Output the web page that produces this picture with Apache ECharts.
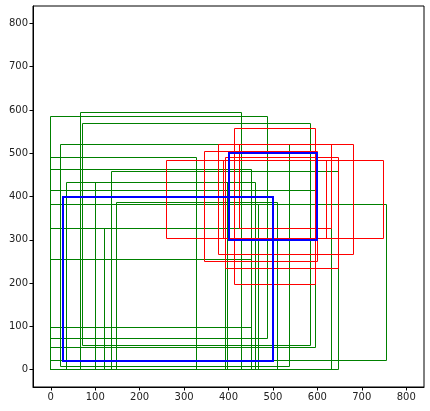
<!DOCTYPE html>
<html>
<head>
<meta charset="utf-8">
<script src="https://cdn.jsdelivr.net/npm/echarts@6/dist/echarts.min.js"></script>
<style>
html,body{margin:0;padding:0;background:#fff;}
#chart{width:430px;height:411px;}
</style>
</head>
<body>
<div id="chart"></div>
<script>
// Boxes as [x0, y0, x1, y1]
const greenBoxes = [
  [68, 0, 429, 593],
  [0, 73, 487, 584],
  [72, 57, 584, 568],
  [23, 8, 537, 519],
  [0, 0, 327, 489],
  [0, 98, 451, 462],
  [136, 0, 648, 457],
  [35, 0, 460, 433],
  [0, 52, 596, 414],
  [147, 0, 510, 385],
  [0, 22, 756, 381],
  [0, 0, 632, 327],
  [121, 0, 394, 327],
  [100, 0, 398, 433],
  [0, 0, 451, 254],
  [0, 0, 467, 381]
];
const redBoxes = [
  [260, 302, 749, 482],
  [377, 265, 681, 519],
  [345, 250, 600, 503],
  [393, 233, 648, 489],
  [413, 196, 596, 557],
  [388, 302, 620, 482],
  [425, 327, 632, 519]
];
const blueBoxes = [
  [27, 21, 500, 400],
  [400, 300, 600, 500]
];
const tickValues = [0, 100, 200, 300, 400, 500, 600, 700, 800];

const chart = echarts.init(document.getElementById('chart'), null, {renderer: 'canvas'});

function snap(v, w) {
  // align strokes to the pixel grid for crisp lines
  return (w % 2 === 1) ? Math.round(v - 0.5) + 0.5 : Math.round(v);
}

function boxSeries(data, color, width) {
  return {
    type: 'custom',
    data: data,
    encode: {x: [0, 2], y: [1, 3]},
    clip: false,
    silent: true,
    renderItem: function (params, api) {
      const p0 = api.coord([api.value(0), api.value(1)]);
      const p1 = api.coord([api.value(2), api.value(3)]);
      const x0 = snap(Math.min(p0[0], p1[0]), width);
      const x1 = snap(Math.max(p0[0], p1[0]), width);
      const y0 = snap(Math.min(p0[1], p1[1]), width);
      const y1 = snap(Math.max(p0[1], p1[1]), width);
      return {
        type: 'rect',
        shape: {x: x0, y: y0, width: x1 - x0, height: y1 - y0},
        style: {fill: 'none', stroke: color, lineWidth: width}
      };
    }
  };
}

const axisCommon = {
  type: 'value',
  min: -40,
  max: 840,
  splitLine: {show: false},
  axisLine: {show: true, onZero: false, lineStyle: {color: '#000', width: 1}},
  axisTick: {show: true, inside: false, length: 3.5, lineStyle: {color: '#000', width: 1}, customValues: tickValues},
  axisLabel: {show: true, color: '#222', fontSize: 10, fontFamily: 'DejaVu Sans', margin: 5, customValues: tickValues}
};

chart.setOption({
  animation: false,
  backgroundColor: '#fff',
  grid: {left: 33, right: 6, top: 6, bottom: 24, show: true, borderColor: '#000', borderWidth: 1, backgroundColor: 'transparent'},
  xAxis: Object.assign({}, axisCommon),
  yAxis: Object.assign({}, axisCommon),
  series: [
    boxSeries(greenBoxes, '#008000', 1),
    boxSeries(redBoxes, '#ff0000', 1),
    boxSeries(blueBoxes, '#0000ff', 2)
  ]
});
</script>
</body>
</html>
